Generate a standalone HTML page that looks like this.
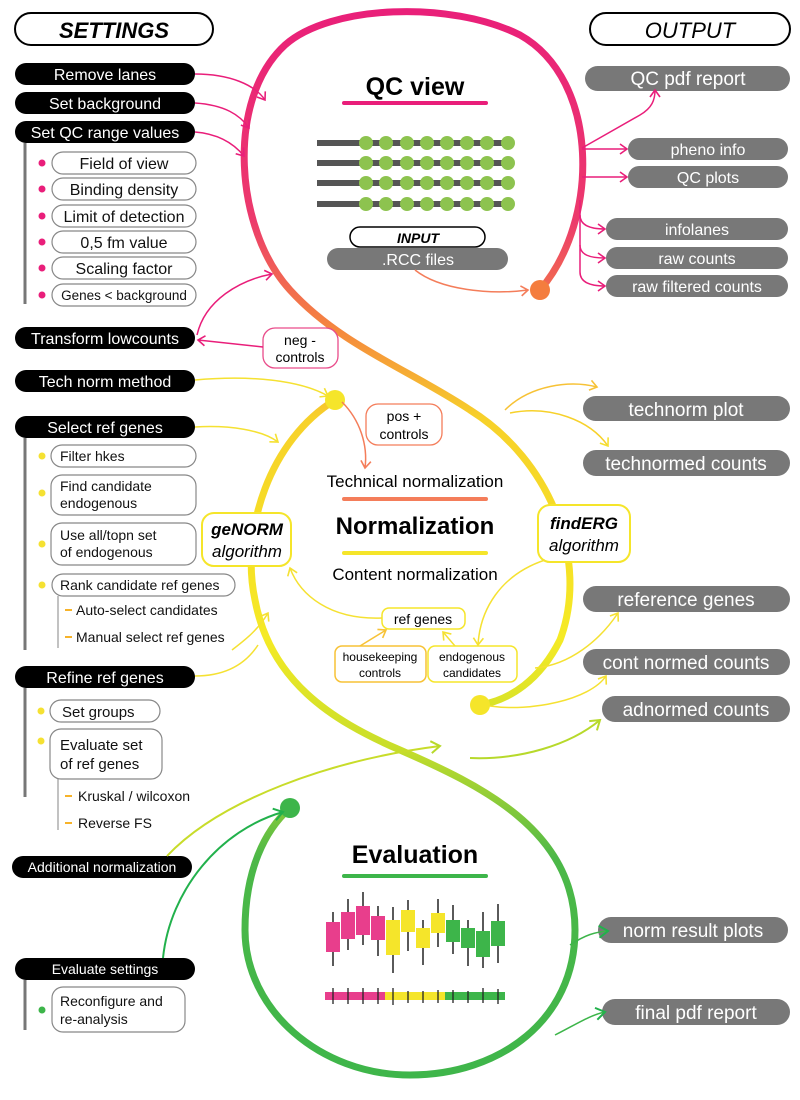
<!DOCTYPE html>
<html><head><meta charset="utf-8">
<style>
html,body{margin:0;padding:0;background:#fff;}
svg{display:block;font-family:"Liberation Sans",sans-serif;}
</style></head><body>
<svg width="800" height="1100" viewBox="0 0 800 1100" xmlns="http://www.w3.org/2000/svg">
<defs>
<linearGradient id="g" gradientUnits="userSpaceOnUse" x1="0" y1="0" x2="0" y2="1100">
<stop offset="0" stop-color="#e91e7a"/>
<stop offset="0.2" stop-color="#ec3a6c"/>
<stop offset="0.3" stop-color="#f5883e"/>
<stop offset="0.38" stop-color="#f7d12a"/>
<stop offset="0.58" stop-color="#f5ea25"/>
<stop offset="0.68" stop-color="#c8de2a"/>
<stop offset="0.78" stop-color="#4cb848"/>
<stop offset="1" stop-color="#3db54a"/>
</linearGradient>
<marker id="mp" markerWidth="12" markerHeight="12" refX="9" refY="6" orient="auto" markerUnits="userSpaceOnUse"><path d="M2,1 L9,6 L2,11" fill="none" stroke="#e91e7a" stroke-width="1.6"/></marker>
<marker id="mo" markerWidth="12" markerHeight="12" refX="9" refY="6" orient="auto" markerUnits="userSpaceOnUse"><path d="M2,1 L9,6 L2,11" fill="none" stroke="#f47d5a" stroke-width="1.6"/></marker>
<marker id="my" markerWidth="12" markerHeight="12" refX="9" refY="6" orient="auto" markerUnits="userSpaceOnUse"><path d="M2,1 L9,6 L2,11" fill="none" stroke="#f5e132" stroke-width="1.6"/></marker>
<marker id="myo" markerWidth="12" markerHeight="12" refX="9" refY="6" orient="auto" markerUnits="userSpaceOnUse"><path d="M2,1 L9,6 L2,11" fill="none" stroke="#f7c236" stroke-width="1.6"/></marker>
<marker id="ml" markerWidth="14" markerHeight="14" refX="11" refY="7" orient="auto" markerUnits="userSpaceOnUse"><path d="M2,1 L11,7 L2,13" fill="none" stroke="#b7d92b" stroke-width="2"/></marker>
<marker id="mg" markerWidth="14" markerHeight="14" refX="11" refY="7" orient="auto" markerUnits="userSpaceOnUse"><path d="M2,1 L11,7 L2,13" fill="none" stroke="#22b14c" stroke-width="2"/></marker>
<radialGradient id="sh" cx="0.5" cy="0.5" r="0.5"><stop offset="0.85" stop-color="#fff"/><stop offset="0.95" stop-color="#eee"/><stop offset="1" stop-color="#fff"/></radialGradient>
</defs>

<!-- headers -->
<rect x="15" y="13" width="198" height="32" rx="16" fill="#fff" stroke="#000" stroke-width="2"/>
<text x="114" y="38" font-size="22" font-weight="bold" font-style="italic" text-anchor="middle">SETTINGS</text>
<rect x="590" y="13" width="200" height="32" rx="16" fill="#fff" stroke="#000" stroke-width="2"/>
<text x="690" y="38" font-size="22" font-style="italic" text-anchor="middle">OUTPUT</text>

<!-- main curve -->
<path d="M540,290 C600,220 600,80 520,35 C450,0 330,5 285,45 C225,100 235,230 290,290 C340,345 410,370 470,410 C550,460 590,560 560,640 C540,680 510,700 480,705" fill="none" stroke="url(#g)" stroke-width="7" stroke-linecap="round"/>
<path d="M335,400 C270,440 240,530 255,600 C270,680 330,720 400,750 C480,785 575,830 575,930 C575,1020 500,1075 410,1075 C320,1075 245,1010 245,930 C245,870 265,830 290,808" fill="none" stroke="url(#g)" stroke-width="7" stroke-linecap="round"/>
<circle cx="540" cy="290" r="10" fill="#f47d3e"/>
<circle cx="335" cy="400" r="10" fill="#f5e52a"/>
<circle cx="480" cy="705" r="10" fill="#f5e52a"/>
<circle cx="290" cy="808" r="10" fill="#3db54a"/>

<!-- left settings -->
<g font-size="16" fill="#fff" text-anchor="middle">
<rect x="15" y="63" width="180" height="22" rx="11" fill="#000"/><text x="105" y="80">Remove lanes</text>
<rect x="15" y="92" width="180" height="22" rx="11" fill="#000"/><text x="105" y="109">Set background</text>
<rect x="15" y="121" width="180" height="22" rx="11" fill="#000"/><text x="105" y="138">Set QC range values</text>
<rect x="15" y="327" width="180" height="22" rx="11" fill="#000"/><text x="105" y="344">Transform lowcounts</text>
<rect x="15" y="370" width="180" height="22" rx="11" fill="#000"/><text x="105" y="387">Tech norm method</text>
<rect x="15" y="416" width="180" height="22" rx="11" fill="#000"/><text x="105" y="433">Select ref genes</text>
<rect x="15" y="666" width="180" height="22" rx="11" fill="#000"/><text x="105" y="683">Refine ref genes</text>
<rect x="12" y="856" width="180" height="22" rx="11" fill="#000"/><text x="102" y="872" font-size="14">Additional normalization</text>
<rect x="15" y="958" width="180" height="22" rx="11" fill="#000"/><text x="105" y="974" font-size="14">Evaluate settings</text>
</g>
<g stroke="#777" stroke-width="3"><line x1="25" y1="143" x2="25" y2="304"/><line x1="25" y1="438" x2="25" y2="650"/><line x1="25" y1="688" x2="25" y2="797"/><line x1="25" y1="980" x2="25" y2="1030"/></g>
<g stroke="#999" stroke-width="1.2"><line x1="58" y1="596" x2="58" y2="648"/><line x1="58" y1="779" x2="58" y2="830"/></g>
<g fill="#e91e7a"><circle cx="42" cy="163" r="3.5"/><circle cx="42" cy="189" r="3.5"/><circle cx="42" cy="216" r="3.5"/><circle cx="42" cy="242" r="3.5"/><circle cx="42" cy="268" r="3.5"/><circle cx="42" cy="295" r="3.5"/></g>
<g fill="#f5e132"><circle cx="42" cy="456" r="3.5"/><circle cx="42" cy="493" r="3.5"/><circle cx="42" cy="544" r="3.5"/><circle cx="42" cy="585" r="3.5"/><circle cx="41" cy="711" r="3.5"/><circle cx="41" cy="741" r="3.5"/></g>
<circle cx="42" cy="1010" r="3.5" fill="#3db54a"/>
<g fill="#f7b32a"><rect x="65" y="609" width="7" height="2"/><rect x="65" y="636" width="7" height="2"/><rect x="65" y="795" width="7" height="2"/><rect x="65" y="822" width="7" height="2"/></g>
<g fill="#fff" stroke="#888" stroke-width="1.2">
<rect x="52" y="152" width="144" height="22" rx="11"/><rect x="52" y="178" width="144" height="22" rx="11"/><rect x="52" y="205" width="144" height="22" rx="11"/><rect x="52" y="231" width="144" height="22" rx="11"/><rect x="52" y="257" width="144" height="22" rx="11"/><rect x="52" y="284" width="144" height="22" rx="11"/>
<rect x="51" y="445" width="145" height="22" rx="11"/><rect x="51" y="475" width="145" height="40" rx="11"/><rect x="51" y="523" width="145" height="42" rx="11"/><rect x="52" y="574" width="183" height="22" rx="11"/>
<rect x="50" y="700" width="110" height="22" rx="11"/><rect x="50" y="729" width="112" height="50" rx="11"/>
<rect x="52" y="987" width="133" height="45" rx="11"/>
</g>
<g font-size="16" fill="#111" text-anchor="middle">
<text x="124" y="169">Field of view</text><text x="124" y="195">Binding density</text><text x="124" y="222">Limit of detection</text><text x="124" y="248">0,5 fm value</text><text x="124" y="274">Scaling factor</text><text x="124" y="300" font-size="13.5">Genes &lt; background</text>
</g>
<g font-size="14" fill="#111">
<text x="60" y="461">Filter hkes</text><text x="60" y="491">Find candidate</text><text x="60" y="508">endogenous</text><text x="60" y="540">Use all/topn set</text><text x="60" y="557">of endogenous</text><text x="60" y="590">Rank candidate ref genes</text>
<text x="76" y="615">Auto-select candidates</text><text x="76" y="642">Manual select ref genes</text>
<text x="62" y="717" font-size="15">Set groups</text><text x="60" y="750" font-size="15">Evaluate set</text><text x="60" y="769" font-size="15">of ref genes</text>
<text x="78" y="801">Kruskal / wilcoxon</text><text x="78" y="828">Reverse FS</text>
<text x="60" y="1006">Reconfigure and</text><text x="60" y="1024">re-analysis</text>
</g>

<!-- outputs -->
<g fill="#787878">
<rect x="585" y="66" width="205" height="25" rx="12.5"/><rect x="628" y="138" width="160" height="22" rx="11"/><rect x="628" y="166" width="160" height="22" rx="11"/><rect x="606" y="218" width="182" height="22" rx="11"/><rect x="606" y="247" width="182" height="22" rx="11"/><rect x="606" y="275" width="182" height="22" rx="11"/>
<rect x="583" y="396" width="207" height="25" rx="12.5"/><rect x="583" y="450" width="207" height="26" rx="13"/><rect x="583" y="586" width="207" height="26" rx="13"/><rect x="583" y="649" width="207" height="26" rx="13"/><rect x="602" y="696" width="188" height="26" rx="13"/>
<rect x="598" y="917" width="190" height="26" rx="13"/><rect x="602" y="999" width="188" height="26" rx="13"/>
</g>
<g fill="#fff" text-anchor="middle" font-size="16">
<text x="688" y="85" font-size="19">QC pdf report</text><text x="708" y="155">pheno info</text><text x="708" y="183">QC plots</text><text x="697" y="235">infolanes</text><text x="697" y="264">raw counts</text><text x="697" y="292">raw filtered counts</text>
<text x="686" y="416" font-size="19">technorm plot</text><text x="686" y="470" font-size="19">technormed counts</text><text x="686" y="606" font-size="19">reference genes</text><text x="686" y="669" font-size="19">cont normed counts</text><text x="696" y="716" font-size="19">adnormed counts</text>
<text x="693" y="937" font-size="19">norm result plots</text><text x="696" y="1019" font-size="19">final pdf report</text>
</g>

<!-- QC view -->
<text x="415" y="95" font-size="25" font-weight="bold" text-anchor="middle">QC view</text>
<rect x="342" y="101" width="146" height="4" rx="2" fill="#e91e7a"/>
<g id="row">
<rect x="317" y="140" width="42" height="6" fill="#555"/>
<g fill="#555"><rect x="359" y="140" width="150" height="6"/></g>
<g fill="#8dc34f"><circle cx="366" cy="143" r="7"/><circle cx="386" cy="143" r="7"/><circle cx="407" cy="143" r="7"/><circle cx="427" cy="143" r="7"/><circle cx="447" cy="143" r="7"/><circle cx="467" cy="143" r="7"/><circle cx="487" cy="143" r="7"/><circle cx="508" cy="143" r="7"/></g>
</g>
<use href="#row" y="20"/><use href="#row" y="40"/><use href="#row" y="61"/>
<rect x="350" y="227" width="135" height="20" rx="10" fill="#fff" stroke="#000" stroke-width="1.5"/>
<text x="418" y="243" font-size="14" font-weight="bold" font-style="italic" text-anchor="middle">INPUT</text>
<rect x="327" y="248" width="181" height="22" rx="11" fill="#787878"/>
<text x="418" y="265" font-size="16" fill="#fff" text-anchor="middle">.RCC files</text>

<!-- normalization -->
<rect x="263" y="328" width="75" height="40" rx="12" fill="#fff" stroke="#e94c8a" stroke-width="1.3"/>
<text x="300" y="345" font-size="14" text-anchor="middle">neg -</text><text x="300" y="362" font-size="14" text-anchor="middle">controls</text>
<rect x="366" y="404" width="76" height="41" rx="12" fill="#fff" stroke="#f47d5a" stroke-width="1.3"/>
<text x="404" y="421" font-size="14" text-anchor="middle">pos +</text><text x="404" y="439" font-size="14" text-anchor="middle">controls</text>
<text x="415" y="487" font-size="17" text-anchor="middle">Technical normalization</text>
<rect x="342" y="497" width="146" height="4" rx="2" fill="#f47d5a"/>
<text x="415" y="534" font-size="24" font-weight="bold" text-anchor="middle">Normalization</text>
<rect x="342" y="551" width="146" height="4" rx="2" fill="#f5e52a"/>
<text x="415" y="580" font-size="17" text-anchor="middle">Content normalization</text>
<rect x="202" y="513" width="89" height="53" rx="12" fill="#fff" stroke="#f5e52a" stroke-width="2"/>
<text x="247" y="535" font-size="17" font-weight="bold" font-style="italic" text-anchor="middle">geNORM</text>
<text x="247" y="557" font-size="17" font-style="italic" text-anchor="middle">algorithm</text>
<rect x="538" y="505" width="92" height="57" rx="12" fill="#fff" stroke="#f5e52a" stroke-width="2"/>
<text x="584" y="529" font-size="17" font-weight="bold" font-style="italic" text-anchor="middle">findERG</text>
<text x="584" y="551" font-size="17" font-style="italic" text-anchor="middle">algorithm</text>
<rect x="382" y="608" width="83" height="21" rx="7" fill="#fff" stroke="#f5e52a" stroke-width="1.5"/>
<text x="423" y="624" font-size="14" text-anchor="middle">ref genes</text>
<rect x="335" y="646" width="91" height="36" rx="7" fill="#fff" stroke="#f7c236" stroke-width="1.5"/>
<text x="380" y="661" font-size="12" text-anchor="middle">housekeeping</text><text x="380" y="677" font-size="12" text-anchor="middle">controls</text>
<rect x="428" y="646" width="89" height="36" rx="7" fill="#fff" stroke="#f5e52a" stroke-width="1.5"/>
<text x="472" y="661" font-size="12" text-anchor="middle">endogenous</text><text x="472" y="677" font-size="12" text-anchor="middle">candidates</text>

<!-- evaluation -->
<text x="415" y="863" font-size="25" font-weight="bold" text-anchor="middle">Evaluation</text>
<rect x="342" y="874" width="146" height="4" rx="2" fill="#3db54a"/>
<g stroke="#222" stroke-width="1.5">
<line x1="333" y1="912" x2="333" y2="966"/><line x1="348" y1="899" x2="348" y2="950"/><line x1="363" y1="892" x2="363" y2="945"/><line x1="378" y1="906" x2="378" y2="956"/><line x1="393" y1="907" x2="393" y2="973"/><line x1="408" y1="900" x2="408" y2="951"/><line x1="423" y1="920" x2="423" y2="965"/><line x1="438" y1="899" x2="438" y2="947"/><line x1="453" y1="905" x2="453" y2="954"/><line x1="468" y1="920" x2="468" y2="966"/><line x1="483" y1="912" x2="483" y2="968"/><line x1="498" y1="904" x2="498" y2="963"/>
</g>
<g fill="#e83e8c"><rect x="326" y="922" width="14" height="30"/><rect x="341" y="912" width="14" height="27"/><rect x="356" y="906" width="14" height="29"/><rect x="371" y="916" width="14" height="24"/></g>
<g fill="#f5e52a"><rect x="386" y="920" width="14" height="35"/><rect x="401" y="910" width="14" height="22"/><rect x="416" y="928" width="14" height="20"/><rect x="431" y="913" width="14" height="20"/></g>
<g fill="#3db54a"><rect x="446" y="920" width="14" height="22"/><rect x="461" y="928" width="14" height="20"/><rect x="476" y="931" width="14" height="26"/><rect x="491" y="921" width="14" height="25"/></g>
<g stroke="#222" stroke-width="1.5"><line x1="325" y1="996" x2="505" y2="996" stroke-dasharray="1 14" stroke-dashoffset="-7"/></g>
<g><rect x="325" y="992" width="60" height="8" fill="#e83e8c"/><rect x="385" y="992" width="60" height="8" fill="#f5e52a"/><rect x="445" y="992" width="60" height="8" fill="#3db54a"/></g>
<g stroke="#222" stroke-width="1.3">
<line x1="333" y1="988" x2="333" y2="1004"/><line x1="348" y1="988" x2="348" y2="1004"/><line x1="363" y1="988" x2="363" y2="1004"/><line x1="378" y1="988" x2="378" y2="1004"/><line x1="393" y1="988" x2="393" y2="1005"/><line x1="408" y1="991" x2="408" y2="1003"/><line x1="423" y1="991" x2="423" y2="1003"/><line x1="438" y1="990" x2="438" y2="1003"/><line x1="453" y1="990" x2="453" y2="1003"/><line x1="468" y1="991" x2="468" y2="1003"/><line x1="483" y1="988" x2="483" y2="1003"/><line x1="498" y1="989" x2="498" y2="1004"/>
</g>

<!-- connectors -->
<g fill="none" stroke-width="1.5">
<path d="M195,74 C230,74 255,85 265,100" stroke="#e91e7a" marker-end="url(#mp)"/>
<path d="M195,103 C225,105 240,115 249,128" stroke="#e91e7a" marker-end="url(#mp)"/>
<path d="M195,132 C220,134 235,145 244,156" stroke="#e91e7a" marker-end="url(#mp)"/>
<path d="M197,335 C205,300 240,280 272,274" stroke="#e91e7a" marker-end="url(#mp)"/>
<path d="M263,347 L198,340" stroke="#e91e7a" marker-end="url(#mp)"/>
<path d="M415,270 C440,290 490,295 528,290" stroke="#f47d5a" marker-end="url(#mo)"/>
<path d="M582,148 L640,115 C652,108 655,100 655,90" stroke="#e91e7a" marker-end="url(#mp)"/>
<path d="M582,149 L627,149" stroke="#e91e7a" marker-end="url(#mp)"/>
<path d="M582,177 L627,177" stroke="#e91e7a" marker-end="url(#mp)"/>
<path d="M580,200 L580,272 C580,282 590,286 605,286" stroke="#e91e7a" marker-end="url(#mp)"/>
<path d="M580,215 C580,225 590,229 605,229" stroke="#e91e7a" marker-end="url(#mp)"/>
<path d="M580,245 C580,255 590,258 605,258" stroke="#e91e7a" marker-end="url(#mp)"/>
<path d="M195,380 C250,375 300,380 328,396" stroke="#f5e132" marker-end="url(#my)"/>
<path d="M342,402 C360,420 368,445 365,468" stroke="#f47d5a" marker-end="url(#mo)"/>
<path d="M195,427 C230,425 262,430 278,442" stroke="#f5e132" marker-end="url(#my)"/>
<path d="M232,650 C245,640 258,630 268,613" stroke="#f5e132" marker-end="url(#my)"/>
<path d="M195,676 C225,676 245,665 258,645" stroke="#f5e132"/>
<path d="M505,410 C530,385 570,380 597,387" stroke="#f7c236" marker-end="url(#myo)"/>
<path d="M510,413 C550,405 590,420 608,446" stroke="#f7d12a" marker-end="url(#my)"/>
<path d="M545,560 C500,575 480,610 478,645" stroke="#f5e132" marker-end="url(#my)"/>
<path d="M455,646 L443,632" stroke="#f5e132" marker-end="url(#my)"/>
<path d="M360,646 L386,630" stroke="#f7c236" marker-end="url(#myo)"/>
<path d="M382,618 C330,620 300,595 290,568" stroke="#f5e132" marker-end="url(#my)"/>
<path d="M535,668 C570,665 600,640 618,613" stroke="#f5e132" marker-end="url(#my)"/>
<path d="M490,706 C530,712 590,700 606,676" stroke="#f5e132" marker-end="url(#my)"/>
</g>
<g fill="none" stroke-width="2">
<path d="M167,856 C220,800 330,760 440,746" stroke="#c8dc2a" marker-end="url(#ml)"/>
<path d="M470,758 C520,760 570,745 600,720" stroke="#b7d92b" marker-end="url(#ml)"/>
<path d="M163,958 C170,890 220,830 283,812" stroke="#22b14c" marker-end="url(#mg)"/>
</g>
<g fill="none" stroke-width="1.5">
<path d="M570,945 C585,935 595,932 608,931" stroke="#3db54a" marker-end="url(#mg)"/>
<path d="M555,1035 C575,1025 590,1015 605,1012" stroke="#3db54a" marker-end="url(#mg)"/>
</g>
</svg>
</body></html>
